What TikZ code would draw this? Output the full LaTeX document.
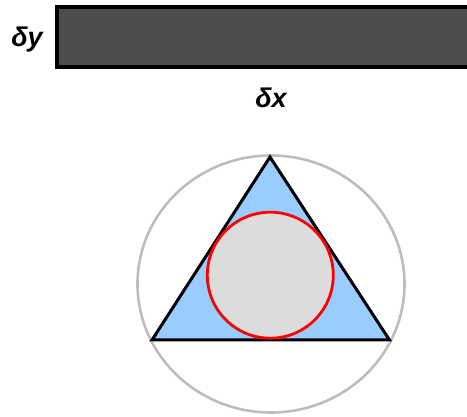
\documentclass[tikz,border=0pt]{standalone}
\usepackage{fontspec}
\setmainfont{Liberation Sans}
\definecolor{bardark}{HTML}{4D4D4D}
\definecolor{triblue}{HTML}{99CCFF}
\definecolor{incircle}{HTML}{DCDCDC}
\definecolor{outergray}{HTML}{BDBDBD}
\usetikzlibrary{positioning}

\begin{document}
\begin{tikzpicture}[x=1pt,y=-1pt,
  bar/.style={draw=black,fill=bardark,line width=4pt},
  label/.style={font=\fontsize{27}{30}\selectfont\bfseries\itshape,inner sep=0pt},
  outer/.style={draw=outergray,line width=2.6pt},
  tri/.style={draw=black,fill=triblue,line width=3pt,line join=miter},
  inner/.style={draw=red,fill=incircle,line width=2.8pt}
]
\clip (0,0) rectangle (467,417);
% thin bar with its dimensions
\draw[bar] (57,7) rectangle (490,67);
\node[label,anchor=base] (dy) at (27,47) {δy};
\node[label,anchor=base] (dx) at (271,108) {δx};
% triangle between its two circles
\draw[outer] (271,284) ellipse [x radius=133.5,y radius=128.5];
\draw[tri] (270,157) -- (152,340) -- (389.5,340) -- cycle;
\draw[inner] (270.3,275.2) circle [radius=63];
\end{tikzpicture}
\end{document}
